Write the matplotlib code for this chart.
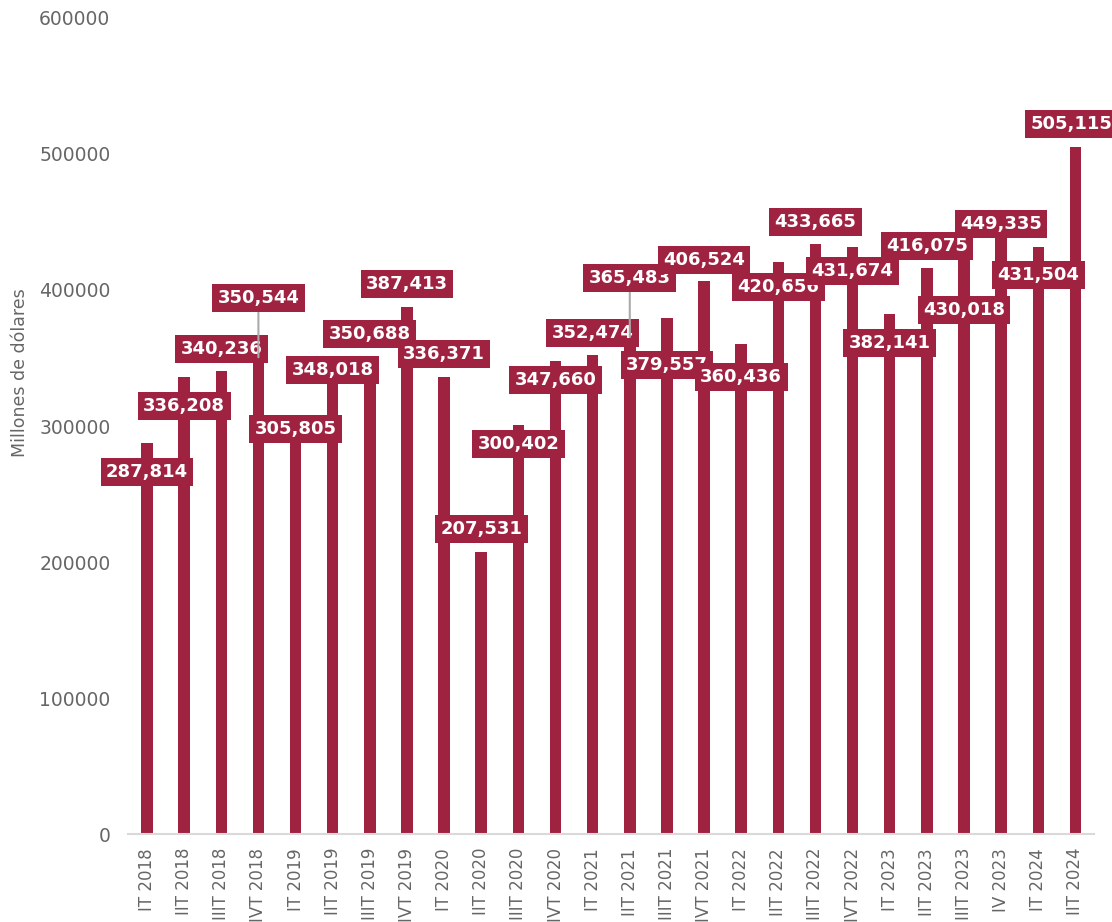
import numpy as np
import matplotlib
matplotlib.use("Agg")
import matplotlib.pyplot as plt

# quarters and values (millones de dólares)
quarters = ["IT 2018", "IIT 2018", "IIIT 2018", "IVT 2018",
            "IT 2019", "IIT 2019", "IIIT 2019", "IVT 2019",
            "IT 2020", "IIT 2020", "IIIT 2020", "IVT 2020",
            "IT 2021", "IIT 2021", "IIIT 2021", "IVT 2021",
            "IT 2022", "IIT 2022", "IIIT 2022", "IVT 2022",
            "IT 2023", "IIT 2023", "IIIT 2023", "IV 2023",
            "IT 2024", "IIT 2024"]
values = [287814, 336208, 340236, 350544,
          305805, 348018, 350688, 387413,
          336371, 207531, 300402, 347660,
          352474, 365483, 379557, 406524,
          360436, 420656, 433665, 431674,
          382141, 416075, 430018, 449335,
          431504, 505115]

# where the value boxes sit (data units), they were moved around to avoid overlaps
label_y = [266200, 314700, 356600, 394100,
           297800, 341200, 367600, 404400,
           352900, 224300, 286800, 333800,
           368400, 408800, 344900, 422000,
           336000, 402200, 450000, 414000,
           361000, 432400, 385300, 448500,
           411000, 522000]
# small sideways nudges (in bar slots), the last one is pushed in from the edge
label_dx = [0] * 25 + [-0.1]

RED = "#9F2241"
GRAY = "#666666"

fig = plt.figure(figsize=(11.12, 9.22), dpi=100)
ax = fig.add_axes([0.1155, 0.0954, 0.9838 - 0.1155, 0.9805 - 0.0954])

x = np.arange(len(quarters))
ax.bar(x, values, width=0.31, color=RED, zorder=2)

for i, (v, ly, dx) in enumerate(zip(values, label_y, label_dx)):
    # leader line only when the box floats well above the bar
    arrow = None
    if ly - 11500 - v > 15000:
        arrow = dict(arrowstyle="-", color="#aaaaaa", lw=1.5, shrinkA=0, shrinkB=0)
    ax.annotate(f"{v:,}", xy=(i, v), xytext=(i + dx, ly), textcoords="data",
                ha="center", va="center", color="white", fontsize=13,
                fontweight="bold", family="DejaVu Sans", zorder=5,
                bbox=dict(boxstyle="square,pad=0.3", fc=RED, ec="none"),
                arrowprops=arrow, annotation_clip=False)

ax.set_xlim(-0.5, len(quarters) - 0.5)
ax.set_ylim(0, 600000)
ax.set_yticks(np.arange(0, 600001, 100000))
ax.set_yticklabels([f"{t:d}" for t in range(0, 600001, 100000)])
ax.set_xticks(x)
ax.set_xticklabels(quarters, rotation=90, va="top", ha="center")

ax.tick_params(axis="both", length=0, colors=GRAY)
ax.tick_params(axis="y", pad=13, labelsize=13.5)
ax.tick_params(axis="x", pad=10, labelsize=12)
for s in ["top", "right", "left"]:
    ax.spines[s].set_visible(False)
ax.spines["bottom"].set_color("#d9d9d9")
ax.spines["bottom"].set_linewidth(1.5)

fig.text(0.018, 0.5954, "Millones de dólares", rotation=90, ha="center",
         va="center", color=GRAY, fontsize=12.5)

fig.savefig("out.png", dpi=100)
